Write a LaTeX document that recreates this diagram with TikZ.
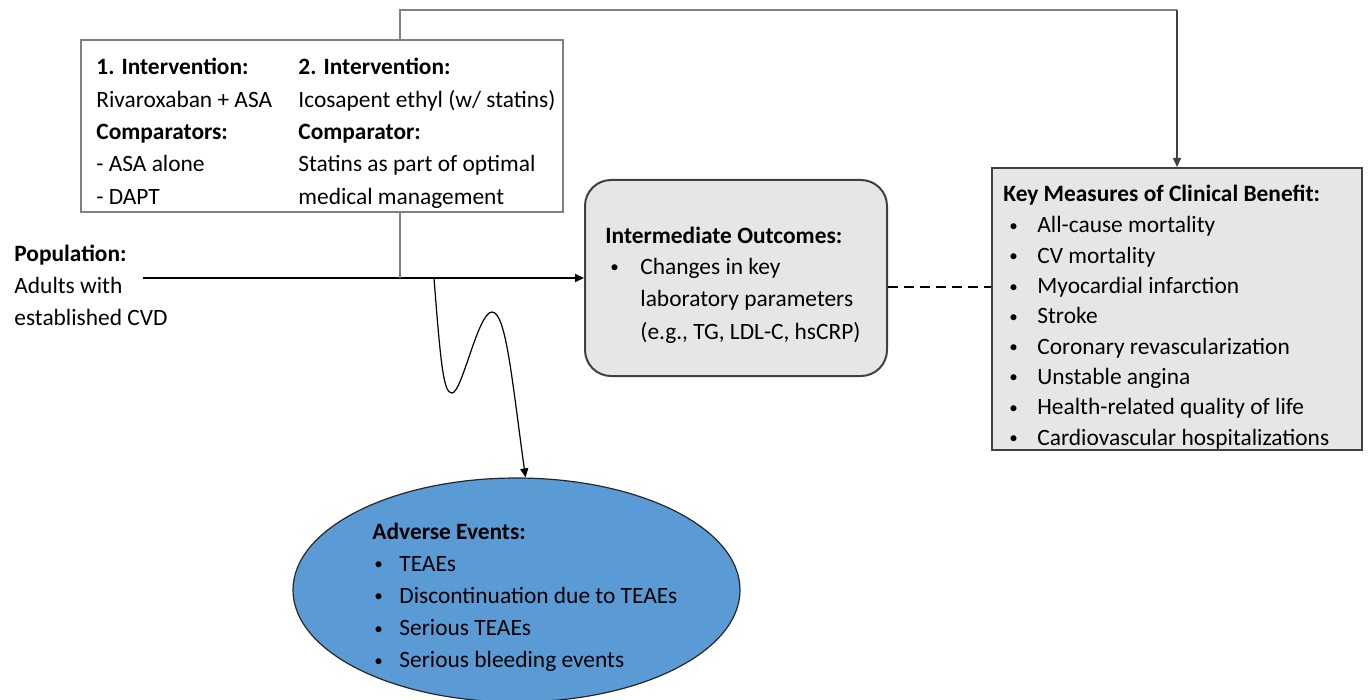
\documentclass[tikz,border=0pt]{standalone}
\usepackage{fontspec}
\setmainfont{Carlito}
\usetikzlibrary{arrows.meta,shapes.geometric}
\definecolor{boxgrey}{HTML}{E7E6E6}
\definecolor{aeblue}{HTML}{5B9BD5}
\definecolor{edgegrey}{HTML}{808080}
\definecolor{darkedge}{HTML}{404040}
\newcommand{\smallbul}{\raisebox{0.8pt}{\fontsize{8.5}{8.5}\selectfont\textbullet}}

\begin{document}
\begin{tikzpicture}[x=0.5pt,y=-0.5pt,font=\fontsize{11.7}{14}\selectfont,
    txt/.style={anchor=base west, inner sep=0pt},
    tip/.style={-{Triangle[length=4.5pt,width=4pt]}}]
\useasboundingbox (0,0) rectangle (1369,700);

% Boxes
\node[draw=edgegrey, line width=1pt, minimum width=241pt, minimum height=86pt, inner sep=0pt] (iv) at (322,126) {};
\node[draw=darkedge, fill=boxgrey, line width=1pt, rounded corners=13pt, minimum width=151pt, minimum height=98pt, inner sep=0pt] (io) at (736,278) {};
\node[draw=darkedge, fill=boxgrey, line width=1pt, minimum width=185pt, minimum height=141pt, inner sep=0pt] (km) at (1177,309) {};
\node[ellipse, draw=black!85, fill=aeblue, line width=0.6pt, minimum width=223.5pt, minimum height=112pt, inner sep=0pt] (ae) at (516.5,590) {};

% Interventions
\foreach \t [count=\i from 0] in {\textbf{1. Intervention:}, Rivaroxaban + ASA, \textbf{Comparators:}, - ASA alone, - DAPT}
  \node[txt] (ivl-\i) at (96,75+32.3*\i) {\t};
\foreach \t [count=\i from 0] in {\textbf{2. Intervention:}, Icosapent ethyl (w/ statins), \textbf{Comparator:}, Statins as part of optimal, medical management}
  \node[txt] (ivr-\i) at (298,75+32.3*\i) {\t};

% Population
\foreach \t [count=\i from 0] in {\textbf{Population:}, Adults with, established CVD}
  \node[txt] (pop-\i) at (14,262+31.5*\i) {\t};

% Intermediate outcomes
\node[txt] (io-head) at (605,243) {\textbf{Intermediate Outcomes:}};
\node[txt] (io-bul) at (610,274) {\smallbul};
\foreach \t [count=\i from 0] in {Changes in key, laboratory parameters, {(e.g., TG, LDL-C, hsCRP)}}
  \node[txt] (io-\i) at (640,274+32.5*\i) {\t};

% Key measures
\node[txt] (km-head) at (1003,202) {\textbf{Key Measures of Clinical Benefit:}};
\foreach \t [count=\i from 0] in {All-cause mortality, CV mortality, Myocardial infarction, Stroke, Coronary revascularization, Unstable angina, Health-related quality of life, Cardiovascular hospitalizations}{
  \node[txt] (kmb-\i) at (1009,233+30.3*\i) {\smallbul};
  \node[txt] (km-\i) at (1037,233+30.3*\i) {\t};
}

% Adverse events
\node[txt] (ae-head) at (372,539) {\textbf{Adverse Events:}};
\foreach \t [count=\i from 0] in {TEAEs, Discontinuation due to TEAEs, Serious TEAEs, Serious bleeding events}{
  \node[txt] (aeb-\i) at (374,571+32.3*\i) {\smallbul};
  \node[txt] (ae-\i) at (399,571+32.3*\i) {\t};
}

% Connectors
\coordinate (popend) at (143,278);
\coordinate (jn) at (400,278);
\coordinate (top) at (400,10);
\coordinate (wv) at (434,278);
\draw[line width=1pt, tip] (popend) -- (io.west);
\draw[edgegrey, line width=0.6pt] (jn |- iv.south) -- (jn);
\draw[edgegrey, line width=1pt] (jn |- iv.north) -- (top) -- (top -| km.north);
\draw[darkedge, line width=0.8pt, tip] (top -| km.north) -- (km.north);
\draw[line width=1pt, dash pattern=on 5pt off 3pt] ([yshift=-4.5pt]io.east) -- ([yshift=-4.5pt]io.east -| km.west);
\draw[line width=0.6pt, tip] (wv) .. controls (441,370) and (444,393) .. (452,393)
  .. controls (462,393) and (478,312) .. (492,312)
  .. controls (506,312) and (512,380) .. ([xshift=4.5pt]ae.north);
\end{tikzpicture}
\end{document}
